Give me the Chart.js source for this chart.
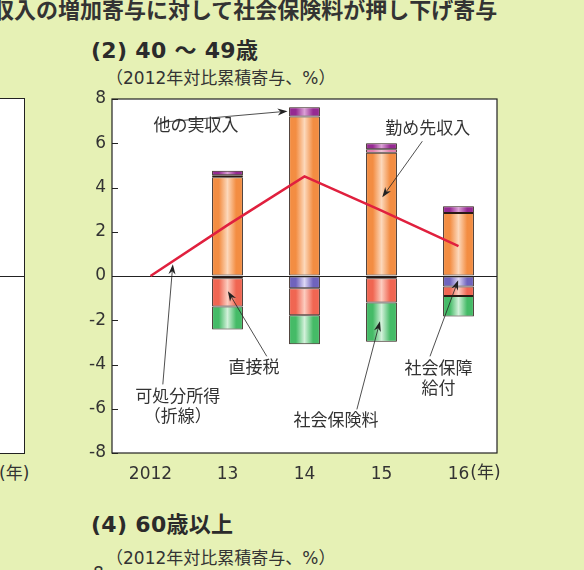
<!DOCTYPE html>
<html lang="ja">
<head>
<meta charset="utf-8">
<script src="https://cdn.jsdelivr.net/npm/chart.js@4.4.1/dist/chart.umd.min.js"></script>
<style>
  html, body { margin: 0; padding: 0; }
  body {
    width: 584px; height: 570px; overflow: hidden; position: relative;
    background: #e6f1b5; color: #333;
    font-family: "DejaVu Sans", "Noto Sans CJK JP", sans-serif;
  }
  .t { position: absolute; white-space: nowrap; line-height: 1; }
  .jp { font-family: "Noto Sans CJK JP", sans-serif; }
  .head { font-size: 22px; font-weight: 700; color: #2b2b2b; letter-spacing: 0.3px; }
  .sub { font-size: 17px; }
  #left { position: absolute; left: -10px; top: 98px; width: 35px; height: 356px;
          background: #fff; border: 1px solid #222; box-sizing: border-box; }
  #left div { position: absolute; left: 0; right: 0; top: 177px; border-top: 1px solid #222; }
  #main { position: absolute; left: 0; top: 0; }
</style>
</head>
<body>
<div class="t jp" style="left:-8px; top:-3px; font-size:22px; font-weight:700;">収入の増加寄与に対して社会保険料が押し下げ寄与</div>
<div class="t head" style="left:91px; top:40px;">(2) 40 ～ 49歳</div>
<div class="t sub" style="left:106px; top:70px;">（2012年対比累積寄与、%）</div>
<div id="left"><div></div></div>
<div class="t" style="left:-1px; top:465px; font-size:17px;">(年)</div>
<div class="t head" style="left:91px; top:514px;">(4) 60歳以上</div>
<div class="t sub" style="left:106px; top:550px;">（2012年対比累積寄与、%）</div>
<div class="t" style="left:93px; top:565px; font-size:17px;">8</div>
<canvas id="main" width="584" height="570"></canvas>
<script>
const years = ['2012', '13', '14', '15', '16'];
const kinmusaki = [null, 4.46, 7.21, 5.57, 2.85];      // 勤め先収入
const sonota = [null, 0.09, 0, 0.16, 0];                // その他（桃色）
const hokaJitsu = [null, 0.21, 0.42, 0.27, 0.30];       // 他の実収入
const shakaiKyufu = [null, -0.10, -0.55, -0.10, -0.48]; // 社会保障給付
const chokusetsuzei = [null, -1.28, -1.22, -1.10, -0.42]; // 直接税
const shakaiHokenryo = [null, -1.04, -1.31, -1.77, -0.93]; // 社会保険料
const kashobun = [0, 2.3, 4.5, 2.95, 1.35];             // 可処分所得（折線）
const yTicks = [-8, -6, -4, -2, 0, 2, 4, 6, 8];

// labels with arrows, in data coordinates (category index, value)
const notes = [
  { text: ['他の実収入'], at: [0.59, 6.86], from: [0.15, 6.95], to: [1.78, 7.45] },
  { text: ['勤め先収入'], at: [3.60, 6.73], from: [3.53, 6.09], to: [3.01, 3.56] },
  { text: ['直接税'], at: [1.345, -4.08], from: [1.51, -3.63], to: [1.005, -0.69] },
  { text: ['可処分所得', '（折線）'], at: [0.355, -5.4], from: [0.16, -4.9], to: [0.29, 0.53] },
  { text: ['社会保険料'], at: [2.41, -6.48], from: [2.68, -6.03], to: [2.98, -2.05] },
  { text: ['社会保障', '給付'], at: [3.74, -4.13], from: [3.63, -3.63], to: [3.996, -0.19] }
];

const BAR_SHARE = 0.4;
const X_PAD = 3;
const TICK_FONT = { size: 17, family: '"DejaVu Sans", "Noto Sans CJK JP"' };

function barFill(edge, light) {
  return function (c) {
    const chart = c.chart;
    const xs = chart.scales.x;
    if (!xs || !chart.chartArea || c.dataIndex === undefined) return edge;
    const cx = xs.getPixelForValue(c.dataIndex);
    const half = xs.width / years.length * BAR_SHARE / 2;
    const g = chart.ctx.createLinearGradient(cx - half, 0, cx + half, 0);
    g.addColorStop(0, edge);
    g.addColorStop(0.22, edge);
    g.addColorStop(0.5, light);
    g.addColorStop(0.78, edge);
    g.addColorStop(1, edge);
    return g;
  };
}

function barSet(label, data, edge, light) {
  return {
    type: 'bar', label: label, data: data, order: 1,
    backgroundColor: barFill(edge, light),
    borderColor: '#2a1a14', borderWidth: 1, borderSkipped: false,
    barPercentage: 1, categoryPercentage: BAR_SHARE
  };
}

const framePlugin = {
  id: 'frame',
  beforeDraw(chart) {
    const a = chart.chartArea, ctx = chart.ctx;
    ctx.save();
    ctx.fillStyle = '#fff';
    ctx.fillRect(a.left, a.top, a.right - a.left, a.bottom - a.top);
    ctx.restore();
  },
  afterDraw(chart) {
    const a = chart.chartArea, ctx = chart.ctx, ys = chart.scales.y, xs = chart.scales.x;
    ctx.save();
    ctx.strokeStyle = '#222';
    ctx.lineWidth = 1.2;
    ctx.strokeRect(a.left, a.top, a.right - a.left, a.bottom - a.top);
    ctx.lineWidth = 1;
    yTicks.forEach(v => {
      const y = Math.round(ys.getPixelForValue(v)) + 0.5;
      ctx.beginPath();
      ctx.moveTo(a.left, y);
      ctx.lineTo(a.left + 6, y);
      ctx.stroke();
    });
    // 年 unit right after the last category label
    ctx.fillStyle = '#333';
    ctx.font = TICK_FONT.size + 'px ' + TICK_FONT.family;
    const w = ctx.measureText(years[years.length - 1]).width;
    ctx.textAlign = 'left';
    ctx.textBaseline = 'top';
    ctx.fillText('(年)', xs.getPixelForValue(years.length - 1) + w / 2 + 1, a.bottom + 8 + X_PAD + 1);

    // annotations
    ctx.font = '17px "Noto Sans CJK JP"';
    ctx.textAlign = 'center';
    ctx.textBaseline = 'middle';
    notes.forEach(n => {
      const tx = xs.getPixelForValue(n.at[0]), ty = ys.getPixelForValue(n.at[1]);
      n.text.forEach((s, i) => ctx.fillText(s, tx, ty + i * 20));
      const x1 = xs.getPixelForValue(n.from[0]), y1 = ys.getPixelForValue(n.from[1]);
      const x2 = xs.getPixelForValue(n.to[0]), y2 = ys.getPixelForValue(n.to[1]);
      const ang = Math.atan2(y2 - y1, x2 - x1);
      ctx.strokeStyle = '#222';
      ctx.lineWidth = 0.8;
      ctx.beginPath();
      ctx.moveTo(x1, y1);
      ctx.lineTo(x2 - 7 * Math.cos(ang), y2 - 7 * Math.sin(ang));
      ctx.stroke();
      ctx.fillStyle = '#222';
      ctx.beginPath();
      ctx.moveTo(x2, y2);
      ctx.lineTo(x2 - 10 * Math.cos(ang) + 3.5 * Math.sin(ang), y2 - 10 * Math.sin(ang) - 3.5 * Math.cos(ang));
      ctx.lineTo(x2 - 7 * Math.cos(ang), y2 - 7 * Math.sin(ang));
      ctx.lineTo(x2 - 10 * Math.cos(ang) - 3.5 * Math.sin(ang), y2 - 10 * Math.sin(ang) + 3.5 * Math.cos(ang));
      ctx.closePath();
      ctx.fill();
      ctx.fillStyle = '#333';
    });
    ctx.restore();
  }
};

new Chart(document.getElementById('main'), {
  data: {
    labels: years,
    datasets: [
      {
        type: 'line', label: '可処分所得', data: kashobun, order: 0, stack: 'line',
        borderColor: '#e0203e', borderWidth: 2.5, pointRadius: 0, tension: 0, fill: false
      },
      barSet('勤め先収入', kinmusaki, '#f38d42', '#fcd8bb'),
      barSet('その他', sonota, '#ec6aa6', '#f8c4dc'),
      barSet('他の実収入', hokaJitsu, '#962a92', '#dba0d6'),
      barSet('社会保障給付', shakaiKyufu, '#6f63bd', '#ddd8f5'),
      barSet('直接税', chokusetsuzei, '#f06652', '#fcccbf'),
      barSet('社会保険料', shakaiHokenryo, '#45bb67', '#d2f1da')
    ]
  },
  options: {
    responsive: false,
    animation: false,
    layout: { padding: { top: 99, right: 87, left: 0, bottom: 77 } },
    plugins: { legend: { display: false }, tooltip: { enabled: false } },
    scales: {
      x: {
        stacked: true,
        grid: { display: false },
        border: { display: false },
        ticks: { color: '#333', font: TICK_FONT, padding: X_PAD, maxRotation: 0, autoSkip: false },
        afterFit(s) { s.height = 40; }
      },
      y: {
        stacked: true,
        min: -8, max: 8,
        afterBuildTicks(s) { s.ticks = yTicks.map(v => ({ value: v })); },
        grid: {
          drawTicks: false,
          color: c => (c.tick && c.tick.value === 0 ? '#222' : 'rgba(0,0,0,0)'),
          lineWidth: 1
        },
        border: { display: false },
        ticks: { color: '#333', font: TICK_FONT, padding: 6 },
        afterFit(s) { s.width = 112; }
      }
    }
  },
  plugins: [framePlugin]
});
</script>
</body>
</html>
